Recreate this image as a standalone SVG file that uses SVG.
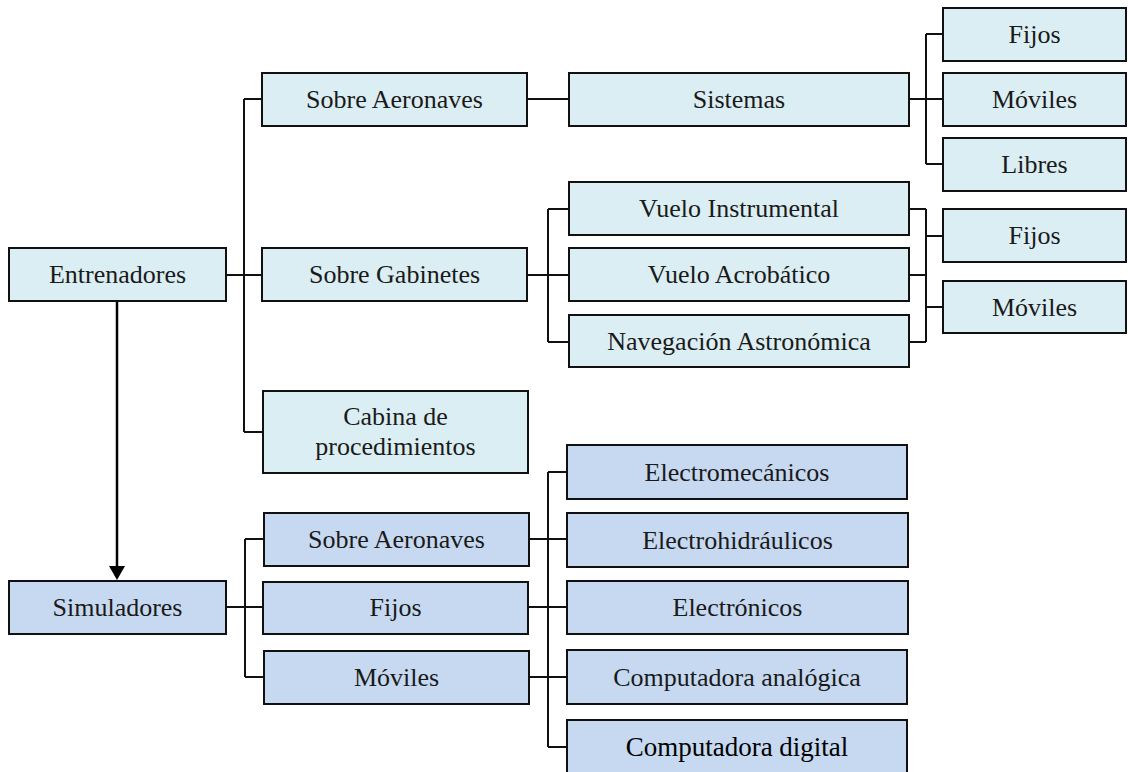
<svg xmlns="http://www.w3.org/2000/svg" width="1128" height="772" viewBox="0 0 1128 772">
<style>
.a{fill:#DAEEF3;stroke:#111;stroke-width:2}
.b{fill:#C6D9F1;stroke:#111;stroke-width:2}
.t{font-family:"Liberation Serif","Times New Roman",serif;font-size:26px;fill:#1a1a1a;text-anchor:middle}
.d{font-family:"Liberation Serif","Times New Roman",serif;font-size:27px;fill:#000;text-anchor:middle}
.c{fill:none;stroke:#111;stroke-width:2}
.ar{fill:none;stroke:#000;stroke-width:2.5}
</style>
<rect width="1128" height="772" fill="#fff"/>
<g id="connectors">
<path class="c" d="M226,275H244M244,99V432M244,99H262M244,275H262M244,432H263"/>
<path class="c" d="M527,99H569"/>
<path class="c" d="M909,99H926M926,34V164M926,34H943M926,99H943M926,164H943"/>
<path class="c" d="M527,275H548M548,209V342M548,209H569M548,275H569M548,342H569"/>
<path class="c" d="M909,209H926M909,275H926M909,342H926M926,209V342M926,236H943M926,307H943"/>
<path class="c" d="M226,607H245M245,539V677M245,539H264M245,607H263M245,677H264"/>
<path class="c" d="M529,539H548M528,607H548M529,677H548M548,472V747M548,472H567M548,539H567M548,607H567M548,677H567M548,747H567"/>
<line class="ar" x1="117" y1="301" x2="117" y2="567"/>
<path d="M109,566 L125,566 L117,580 Z" fill="#000"/>
</g>
<g id="n-entrenadores"><rect class="a" x="9" y="248" width="217" height="53"/><text class="t" x="117.5" y="283">Entrenadores</text></g>
<g id="n-sobre-aeronaves-e"><rect class="a" x="262" y="73" width="265" height="53"/><text class="t" x="394.5" y="108">Sobre Aeronaves</text></g>
<g id="n-sobre-gabinetes"><rect class="a" x="262" y="248" width="265" height="53"/><text class="t" x="394.5" y="283">Sobre Gabinetes</text></g>
<g id="n-cabina"><rect class="a" x="263" y="391" width="265" height="82"/><text class="t" x="395.5" y="425">Cabina de</text><text class="t" x="395.5" y="455">procedimientos</text></g>
<g id="n-sistemas"><rect class="a" x="569" y="73" width="340" height="53"/><text class="t" x="739" y="108">Sistemas</text></g>
<g id="n-fijos-1"><rect class="a" x="943" y="8" width="183" height="53"/><text class="t" x="1034.5" y="43">Fijos</text></g>
<g id="n-moviles-1"><rect class="a" x="943" y="73" width="183" height="53"/><text class="t" x="1034.5" y="108">Móviles</text></g>
<g id="n-libres"><rect class="a" x="943" y="138" width="183" height="53"/><text class="t" x="1034.5" y="173">Libres</text></g>
<g id="n-vuelo-instrumental"><rect class="a" x="569" y="182" width="340" height="53"/><text class="t" x="739" y="217">Vuelo Instrumental</text></g>
<g id="n-vuelo-acrobatico"><rect class="a" x="569" y="248" width="340" height="53"/><text class="t" x="739" y="283">Vuelo Acrobático</text></g>
<g id="n-navegacion"><rect class="a" x="569" y="315" width="340" height="52"/><text class="t" x="739" y="350">Navegación Astronómica</text></g>
<g id="n-fijos-2"><rect class="a" x="943" y="209" width="183" height="53"/><text class="t" x="1034.5" y="244">Fijos</text></g>
<g id="n-moviles-2"><rect class="a" x="943" y="281" width="183" height="52"/><text class="t" x="1034.5" y="316">Móviles</text></g>
<g id="n-simuladores"><rect class="b" x="9" y="581" width="217" height="53"/><text class="t" x="117.5" y="616">Simuladores</text></g>
<g id="n-sobre-aeronaves-s"><rect class="b" x="264" y="513" width="265" height="53"/><text class="t" x="396.5" y="548">Sobre Aeronaves</text></g>
<g id="n-fijos-s"><rect class="b" x="263" y="582" width="265" height="52"/><text class="t" x="395.5" y="616">Fijos</text></g>
<g id="n-moviles-s"><rect class="b" x="264" y="651" width="265" height="53"/><text class="t" x="396.5" y="686">Móviles</text></g>
<g id="n-electromecanicos"><rect class="b" x="567" y="445" width="340" height="54"/><text class="t" x="737" y="481">Electromecánicos</text></g>
<g id="n-electrohidraulicos"><rect class="b" x="567" y="513" width="341" height="54"/><text class="t" x="737.5" y="549">Electrohidráulicos</text></g>
<g id="n-electronicos"><rect class="b" x="567" y="581" width="341" height="53"/><text class="t" x="737.5" y="616">Electrónicos</text></g>
<g id="n-comp-analogica"><rect class="b" x="567" y="650" width="340" height="54"/><text class="t" x="737" y="686">Computadora analógica</text></g>
<g id="n-comp-digital"><rect class="b" x="567" y="720" width="340" height="60"/><text class="d" x="737" y="756">Computadora digital</text></g>
</svg>
